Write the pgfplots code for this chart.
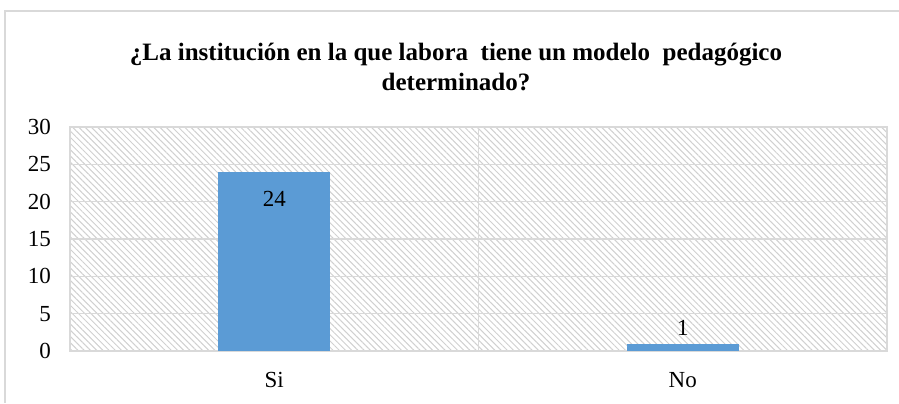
\documentclass[border=0pt]{standalone}
\usepackage{pgfplots}
\pgfplotsset{compat=1.18}
\usepackage{fontspec}
\setmainfont{Liberation Serif}
\usetikzlibrary{patterns.meta}
\definecolor{barblue}{HTML}{5B9BD5}
\definecolor{gridgray}{HTML}{D9D9D9}
\definecolor{hatchgray}{HTML}{D0D0D0}
\begin{document}
\begin{tikzpicture}[x=0.5pt,y=0.5pt]
% canvas 899 x 403 px, 1px = 0.5pt
\useasboundingbox (0,0) rectangle (899,403);
\draw[gridgray, line width=0.75pt] (5,0) -- (5,392) -- (899,392);
\node[font=\fontsize{12.5}{15}\selectfont\bfseries, align=center] at (456,336)
  {¿La institución en la que labora\ \ tiene un modelo\ \ pedagógico\\determinado?};
\begin{axis}[
    at={(35pt,26pt)}, anchor=south west,
    scale only axis,
    width=408.5pt, height=112pt,
    xmin=-0.5, xmax=1.5,
    ymin=0, ymax=30,
    xtick={0,1},
    xticklabels={Si,No},
    extra x ticks={0.5},
    extra x tick labels={},
    extra x tick style={grid=major, major tick length=0pt},
    ytick={0,5,...,30},
    ymajorgrids,
    grid style={gridgray, line width=0.75pt},
    axis line style={gridgray, line width=0.75pt},
    major tick length=0pt,
    tick label style={font=\fontsize{11.5}{13}\selectfont},
    /pgf/number format/assume math mode=true,
    xticklabel style={yshift=-7pt},
    yticklabel style={xshift=-6pt},
    axis background/.style={pattern={Lines[angle=-45,distance=2.2pt,line width=0.5pt]}, pattern color=hatchgray},
    ybar, bar width=56pt, bar shift=0pt,
    axis on top=false,
]
\addplot[fill=barblue, draw=none,
    nodes near coords,
    every node near coord/.append style={anchor=north, yshift=-6pt, font=\fontsize{11.5}{13}\selectfont, /pgf/number format/assume math mode=true}]
  coordinates {(0,24)};
\addplot[fill=barblue, draw=none,
    nodes near coords,
    every node near coord/.append style={anchor=south, yshift=0.5pt, font=\fontsize{11.5}{13}\selectfont, /pgf/number format/assume math mode=true}]
  coordinates {(1,1)};
\end{axis}
\end{tikzpicture}
\end{document}
